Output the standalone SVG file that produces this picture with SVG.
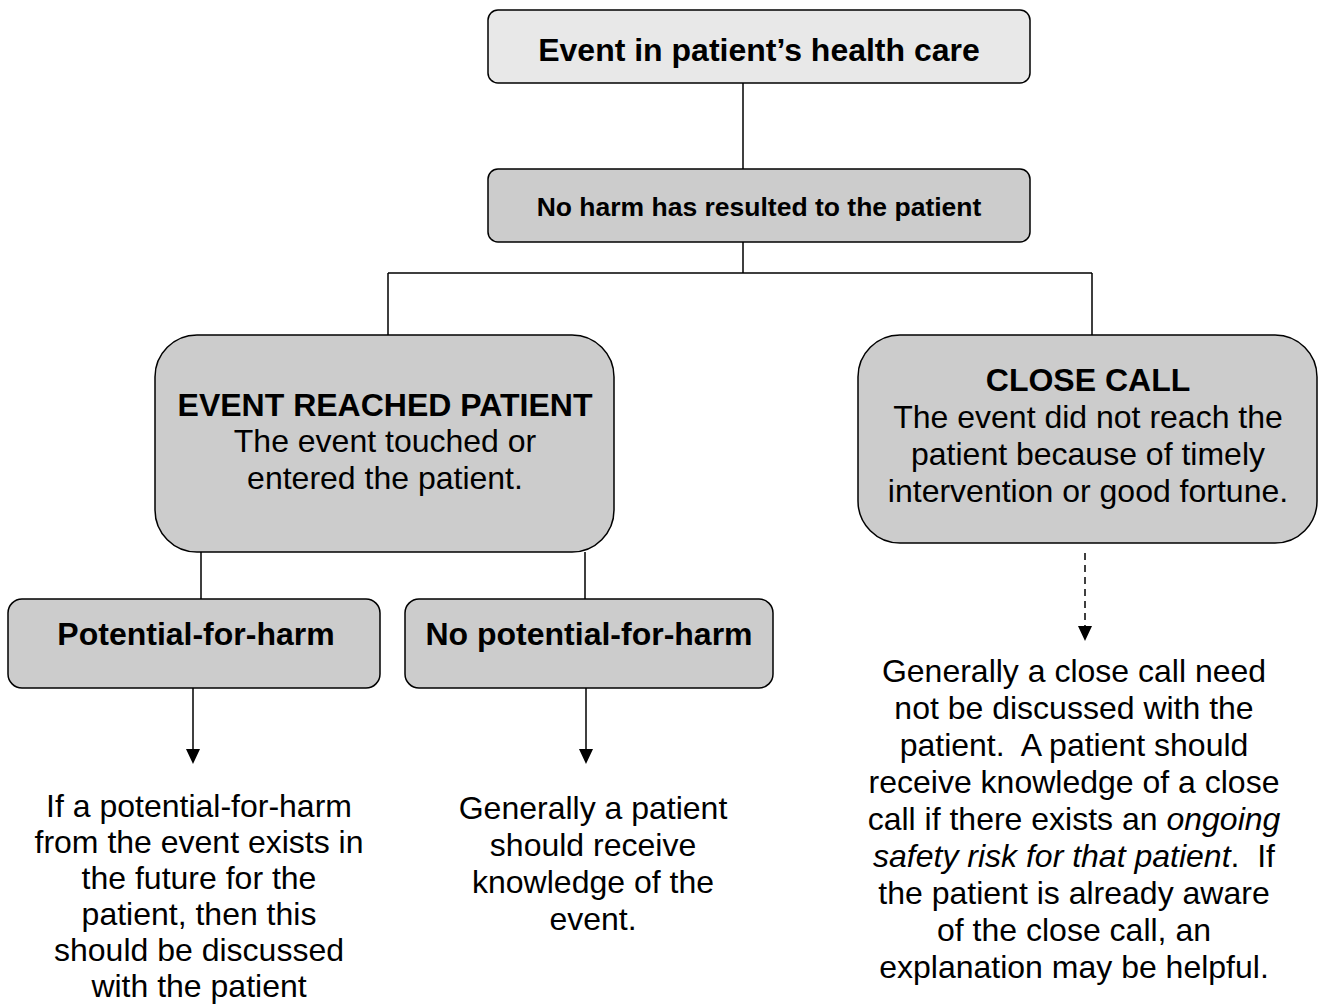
<svg xmlns="http://www.w3.org/2000/svg" width="1321" height="1006" viewBox="0 0 1321 1006">
<style>
.box{fill:#cccccc;stroke:#000;stroke-width:1.5}
.light{fill:#e8e8e8}
.t{font-family:"Liberation Sans",Arial,sans-serif;font-size:32px;fill:#000;text-anchor:middle}
.b{font-weight:bold}
.s{font-size:26.5px}
.ln{fill:none;stroke:#000;stroke-width:1.5}
.dash{stroke-dasharray:7,5}
</style>
<rect width="1321" height="1006" fill="#fff"/>
<g id="connectors">
<path class="ln" d="M743,83 V169"/>
<path class="ln" d="M743,242 V273 M388,273 H1092 M388,273 V335 M1092,273 V335"/>
<path class="ln" d="M201,552 V599 M585,552 V599"/>
<path class="ln" d="M193,688 V750"/>
<polygon points="186,749 200,749 193,764" fill="#000"/>
<path class="ln" d="M586,688 V750"/>
<polygon points="579,749 593,749 586,764" fill="#000"/>
<path class="ln dash" d="M1085,553 V627"/>
<polygon points="1078,626 1092,626 1085,641" fill="#000"/>
</g>
<g id="event">
<rect class="box light" x="488" y="10" width="542" height="73" rx="10"/>
<text class="t b" x="759" y="61">Event in patient’s health care</text>
</g>
<g id="noharm">
<rect class="box" x="488" y="169" width="542" height="73" rx="10"/>
<text class="t b s" x="759" y="216">No harm has resulted to the patient</text>
</g>
<g id="reached">
<rect class="box" x="155" y="335" width="459" height="217" rx="42"/>
<text class="t" x="385"><tspan class="b" x="385" y="416">EVENT REACHED PATIENT</tspan><tspan x="385" y="452">The event touched or</tspan><tspan x="385" y="489">entered the patient.</tspan></text>
</g>
<g id="closecall">
<rect class="box" x="858" y="335" width="459" height="208" rx="42"/>
<text class="t" x="1088"><tspan class="b" x="1088" y="391">CLOSE CALL</tspan><tspan x="1088" y="428">The event did not reach the</tspan><tspan x="1088" y="465">patient because of timely</tspan><tspan x="1088" y="502">intervention or good fortune.</tspan></text>
</g>
<g id="potential">
<rect class="box" x="8" y="599" width="372" height="89" rx="14"/>
<text class="t b" x="196" y="645">Potential-for-harm</text>
</g>
<g id="nopotential">
<rect class="box" x="405" y="599" width="368" height="89" rx="14"/>
<text class="t b" x="589" y="645">No potential-for-harm</text>
</g>
<g id="leaf-potential">
<text class="t" x="199"><tspan x="199" y="817">If a potential-for-harm</tspan><tspan x="199" y="853">from the event exists in</tspan><tspan x="199" y="889">the future for the</tspan><tspan x="199" y="925">patient, then this</tspan><tspan x="199" y="961">should be discussed</tspan><tspan x="199" y="997">with the patient</tspan></text>
</g>
<g id="leaf-nopotential">
<text class="t" x="593"><tspan x="593" y="819">Generally a patient</tspan><tspan x="593" y="856">should receive</tspan><tspan x="593" y="893">knowledge of the</tspan><tspan x="593" y="930">event.</tspan></text>
</g>
<g id="leaf-closecall">
<text class="t" x="1074" xml:space="preserve"><tspan x="1074" y="682">Generally a close call need</tspan><tspan x="1074" y="719">not be discussed with the</tspan><tspan x="1074" y="756">patient.  A patient should</tspan><tspan x="1074" y="793">receive knowledge of a close</tspan><tspan x="1074" y="830">call if there exists an <tspan font-style="italic">ongoing</tspan></tspan><tspan x="1074" y="867"><tspan font-style="italic">safety risk for that patient</tspan>.  If</tspan><tspan x="1074" y="904">the patient is already aware</tspan><tspan x="1074" y="941">of the close call, an</tspan><tspan x="1074" y="978">explanation may be helpful.</tspan></text>
</g>
</svg>
